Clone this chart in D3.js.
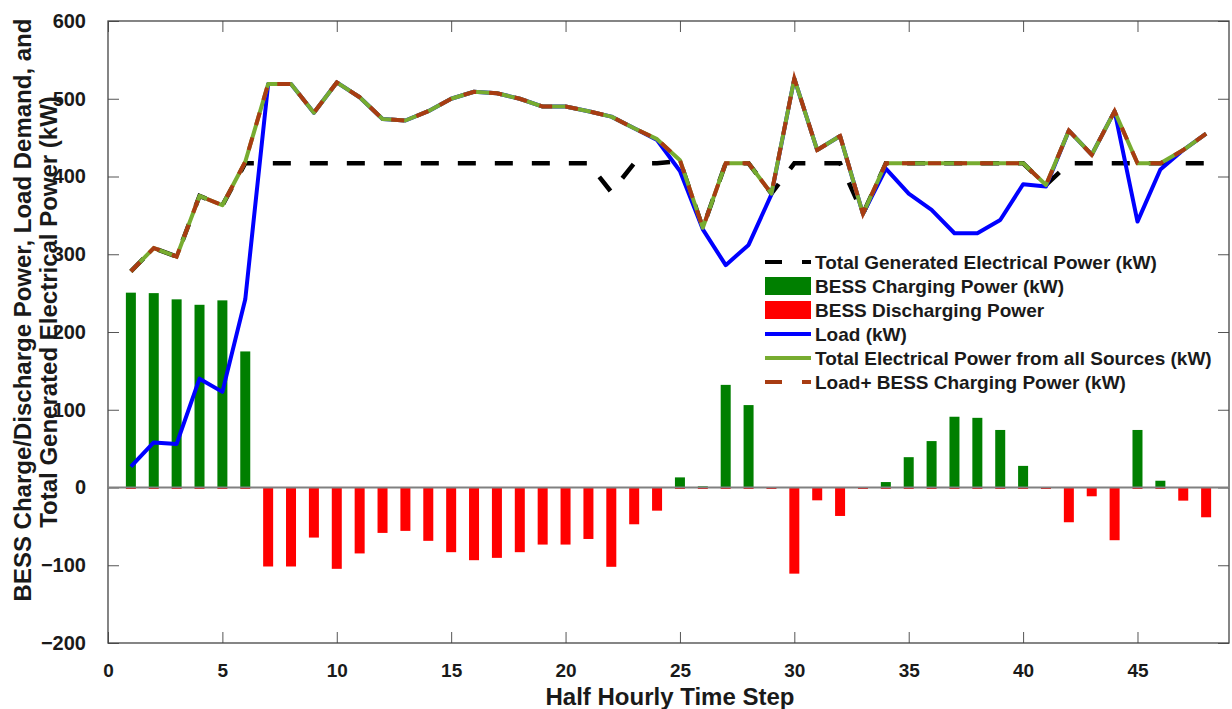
<!DOCTYPE html>
<html>
<head>
<meta charset="utf-8">
<script src="https://d3js.org/d3.v7.min.js"></script>
<style>
  body { margin: 0; background: #fff; }
  svg { display: block; font-family: "Liberation Sans", Arial, sans-serif; }
  .tick text { font-weight: bold; fill: #1a1a1a; }
  .tick line { stroke: #555; }
  .domain { display: none; }
</style>
</head>
<body>
<div id="chart"><svg width="1232" height="709"></svg></div>
<script>
// half hourly steps 1..48
var steps = d3.range(1, 49);

// BESS power, + charging / - discharging (kW)
var bessPower = [250.6, 250, 242, 235, 240.7, 175, -101.6, -101.6, -64.4, -104.6, -84.8, -58.4,
  -55.8, -68.6, -83.2, -93.5, -90.5, -83.2, -73.4, -73.4, -66.2, -102, -47.3, -29.8,
  13, 1.5, 132, 106, -0.5, -110.8, -16.5, -36.6, -0.5, 7, 39, 59.7,
  91, 89.6, 74, 27.8, -0.5, -44.7, -11.3, -67.8, 74, 8.7, -16.9, -38.3];

var load = [27, 58, 56, 140, 123, 242, 519, 519, 482, 521, 502, 474,
  472, 484, 500, 509, 507, 500, 490, 490, 484, 477, 462, 447,
  407, 332, 286, 312, 377, 526, 434, 452, 352, 410, 378, 357,
  327, 327, 344, 390, 387, 459, 428, 484, 342, 409, 434, 455];

var totalFromSources = [278, 308, 297, 375, 363, 419, 519, 519, 482, 521, 502, 474,
  472, 484, 500, 509, 507, 500, 490, 490, 484, 477, 462, 448,
  421, 334, 417, 417, 378, 526, 434, 452, 352, 417, 417, 417,
  417, 417, 417, 417, 389, 459, 428, 484, 417, 417, 434, 455];

var loadPlusCharge = [278, 308, 297, 375, 363, 419, 519, 519, 482, 521, 502, 474,
  472, 484, 500, 509, 507, 500, 490, 490, 484, 477, 462, 448,
  421, 334, 417, 417, 378, 526, 434, 452, 352, 417, 417, 417,
  417, 417, 417, 417, 389, 459, 428, 484, 417, 417, 434, 455];

var totalGenerated = [278, 308, 297, 375, 363, 417, 417, 417, 417, 417, 417, 417,
  417, 417, 417, 417, 417, 417, 417, 417, 417, 380, 417, 417,
  420, 334, 417, 417, 378, 417, 417, 417, 352, 417, 417, 417,
  417, 417, 417, 417, 389, 417, 417, 417, 417, 417, 417, 417];

var xTicks = [0, 5, 10, 15, 20, 25, 30, 35, 40, 45];
var yTicks = [-200, -100, 0, 100, 200, 300, 400, 500, 600];

var legendNames = ["Total Generated Electrical Power (kW)", "BESS Charging Power (kW)",
  "BESS Discharging Power", "Load (kW)", "Total Electrical Power from all Sources (kW)",
  "Load+ BESS Charging Power (kW)"];

var svg = d3.select("#chart svg");
var L = 108, R = 1229, T = 21, B = 643;

var x = d3.scaleLinear().domain([0, 49]).range([L, R]);
var y = d3.scaleLinear().domain([-200, 600]).range([B, T]);
var barW = 10;

// axes, ticks pointing inward
var gy = svg.append("g").attr("transform", "translate(" + L + ",0)")
  .call(d3.axisLeft(y).tickValues(yTicks).tickSizeInner(-11).tickSizeOuter(0).tickPadding(22));
gy.selectAll("text").attr("font-size", 20);
svg.append("g").attr("transform", "translate(" + R + ",0)")
  .call(d3.axisRight(y).tickValues(yTicks).tickSizeInner(-11).tickSizeOuter(0).tickFormat(""));
var gx = svg.append("g").attr("transform", "translate(0," + B + ")")
  .call(d3.axisBottom(x).tickValues(xTicks).tickSizeInner(-11).tickSizeOuter(0).tickPadding(21));
gx.selectAll("text").attr("font-size", 19);
svg.append("g").attr("transform", "translate(0," + T + ")")
  .call(d3.axisTop(x).tickValues(xTicks).tickSizeInner(-11).tickSizeOuter(0).tickFormat(""));

svg.append("rect").attr("x", L).attr("y", T).attr("width", R - L).attr("height", B - T)
  .attr("fill", "none").attr("stroke", "#444").attr("stroke-width", 1.3);

var line = function(vals) {
  return d3.line().x(function(d, i) { return x(steps[i]); }).y(function(d) { return y(d); })(vals);
};

// total generated (black dashed)
svg.append("path").attr("d", line(totalGenerated)).attr("fill", "none")
  .attr("stroke", "#000").attr("stroke-width", 4.5).attr("stroke-dasharray", "18,19");

// bars
svg.selectAll(".dis").data(bessPower).enter().append("rect")
  .attr("x", function(d, i) { return x(steps[i]) - barW / 2; })
  .attr("y", y(0))
  .attr("width", barW)
  .attr("height", function(d) { return Math.max(1.5, y(Math.min(d, 0)) - y(0)); })
  .attr("fill", "#ff0000");
svg.selectAll(".chg").data(bessPower).enter().append("rect")
  .attr("x", function(d, i) { return x(steps[i]) - barW / 2; })
  .attr("y", function(d) { return y(Math.max(d, 0)); })
  .attr("width", barW)
  .attr("height", function(d) { return y(0) - y(Math.max(d, 0)); })
  .attr("fill", "#007f00");

svg.append("line").attr("x1", L).attr("x2", R).attr("y1", y(0)).attr("y2", y(0))
  .attr("stroke", "#808080").attr("stroke-width", 2);

// load (blue)
svg.append("path").attr("d", line(load)).attr("fill", "none")
  .attr("stroke", "#0000ff").attr("stroke-width", 4).attr("stroke-linejoin", "round");
// total from all sources (green)
svg.append("path").attr("d", line(totalFromSources)).attr("fill", "none")
  .attr("stroke", "#77ac30").attr("stroke-width", 4).attr("stroke-linejoin", "round");
// load + charging (brown dashed)
svg.append("path").attr("d", line(loadPlusCharge)).attr("fill", "none")
  .attr("stroke", "#a83c12").attr("stroke-width", 4).attr("stroke-dasharray", "13,13");

// legend
var lg = svg.append("g");
var rowY = [262, 286, 310, 334, 358, 382];
legendNames.forEach(function(name, i) {
  var yy = rowY[i];
  if (i == 1 || i == 2) {
    lg.append("rect").attr("x", 765).attr("y", yy - 9).attr("width", 46).attr("height", 18)
      .attr("fill", i == 1 ? "#007f00" : "#ff0000");
  } else {
    var col = ["#000", "", "", "#0000ff", "#77ac30", "#a83c12"][i];
    var ln = lg.append("line").attr("x1", 765).attr("x2", 811).attr("y1", yy).attr("y2", yy)
      .attr("stroke", col).attr("stroke-width", 4);
    if (i == 0 || i == 5) ln.attr("stroke-dasharray", "17,20");
  }
  lg.append("text").attr("x", 815).attr("y", yy).attr("dy", "0.36em")
    .attr("font-weight", "bold").attr("font-size", 19).attr("fill", "#1a1a1a").text(name);
});

// axis titles
svg.append("text").attr("x", 670).attr("y", 705)
  .attr("text-anchor", "middle").attr("font-weight", "bold").attr("font-size", 24)
  .attr("fill", "#1a1a1a").text("Half Hourly Time Step");
svg.append("text").attr("transform", "translate(31,310) rotate(-90)")
  .attr("text-anchor", "middle").attr("font-weight", "bold").attr("font-size", 24)
  .attr("fill", "#1a1a1a").text("BESS Charge/Discharge Power, Load Demand, and");
svg.append("text").attr("transform", "translate(57,312) rotate(-90)")
  .attr("text-anchor", "middle").attr("font-weight", "bold").attr("font-size", 24)
  .attr("fill", "#1a1a1a").text("Total Generated Electrical Power (kW)");
</script>
</body>
</html>
